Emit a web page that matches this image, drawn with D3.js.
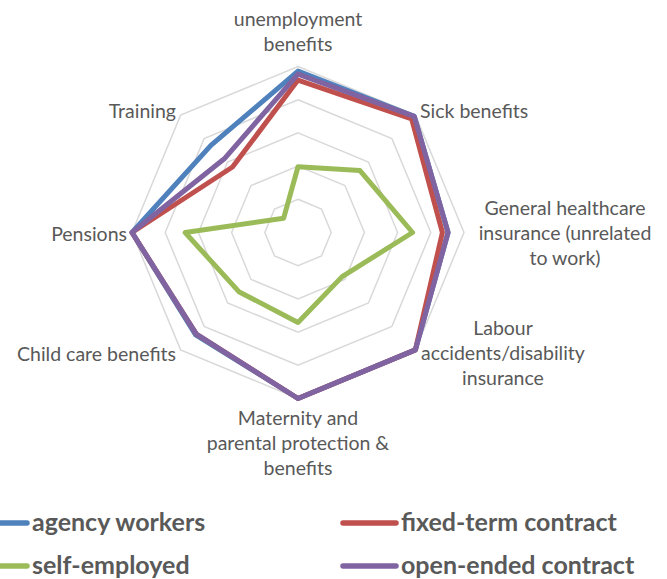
<!DOCTYPE html>
<meta charset="utf-8">
<style>
body { margin: 0; background: #fff; }
text { font-family: Lato, 'Open Sans', sans-serif; fill: #595959; }
.grid { fill: none; stroke: #d9d9d9; stroke-width: 1.5; }
.series { fill: none; stroke-width: 5; stroke-linejoin: round; }
.axislabel { font-size: 19.5px; }
.legend text { font-size: 25px; font-weight: bold; }
</style>
<body>
<div id="chart"></div>
<script src="https://d3js.org/d3.v7.min.js"></script>
<script>
// axes, clockwise from the top
var categories = [
  ["unemployment", "benefits"],
  ["Sick benefits"],
  ["General healthcare", "insurance (unrelated", "to work)"],
  ["Labour", "accidents/disability", "insurance"],
  ["Maternity and", "parental protection &", "benefits"],
  ["Child care benefits"],
  ["Pensions"],
  ["Training"]
];
var seriesNames = ["agency workers", "fixed-term contract", "self-employed", "open-ended contract"];
var seriesColors = ["#4f81bd", "#c0504d", "#9bbb59", "#8064a2"];

var agencyWorkers = [4.86, 4.95, 4.52, 5, 5, 4.36, 5, 3.71];
var fixedTerm     = [4.59, 4.84, 4.35, 5, 5, 4.33, 5, 2.79];
var selfEmployed  = [1.98, 2.64, 3.45, 1.88, 2.71, 2.52, 3.4, 0.61];
var openEnded     = [4.77, 4.95, 4.52, 5, 5, 4.33, 5, 3.14];
var seriesValues = [agencyWorkers, fixedTerm, selfEmployed, openEnded];

var ringTicks = [1, 2, 3, 4, 5];

var width = 667, height = 579,
    cx = 298, cy = 232.5, radius = 166;

var svg = d3.select("#chart").append("svg")
    .attr("width", width)
    .attr("height", height);

var r = d3.scaleLinear().domain([0, 5]).range([0, radius]);
var angle = d3.scaleLinear().domain([0, categories.length]).range([0, 2 * Math.PI]);

var g = svg.append("g").attr("transform", `translate(${cx},${cy})`);

var radial = d3.lineRadial()
    .angle((d, i) => angle(i))
    .radius(d => r(d))
    .curve(d3.curveLinearClosed);

// octagon grid
g.selectAll(".grid")
  .data(ringTicks)
  .enter().append("path")
  .attr("class", "grid")
  .attr("d", t => radial(categories.map(() => t)));

// series
g.selectAll(".series")
  .data(seriesValues)
  .enter().append("path")
  .attr("class", "series")
  .attr("stroke", (d, i) => seriesColors[i])
  .attr("d", d => radial(d));

// axis labels
var labelPos = [
  {x: 0, y: -207, anchor: "middle"},
  {x: 122, y: -115, anchor: "start"},
  {x: 267, y: -18, anchor: "middle"},
  {x: 205, y: 102, anchor: "middle"},
  {x: 0, y: 192, anchor: "middle"},
  {x: -122, y: 128, anchor: "end"},
  {x: -171, y: 8, anchor: "end"},
  {x: -122, y: -115, anchor: "end"}
];
var lineH = 25;
categories.forEach(function(lines, i) {
  var p = labelPos[i];
  var t = g.append("text")
      .attr("class", "axislabel")
      .attr("text-anchor", p.anchor);
  lines.forEach(function(s, j) {
    t.append("tspan").attr("x", p.x).attr("y", p.y + j * lineH).text(s);
  });
});

// legend
var legendPos = [
  {x: -28, y: 523},
  {x: 341, y: 523},
  {x: -28, y: 566},
  {x: 341, y: 566}
];
var legend = svg.append("g").attr("class", "legend")
  .selectAll("g")
  .data(seriesNames)
  .enter().append("g")
  .attr("transform", (d, i) => `translate(${legendPos[i].x},${legendPos[i].y})`);

legend.append("line")
  .attr("x1", 2)
  .attr("x2", 55)
  .attr("stroke", (d, i) => seriesColors[i])
  .attr("stroke-width", 5.5)
  .attr("stroke-linecap", "round");

legend.append("text")
  .attr("x", 60)
  .attr("y", 8)
  .text(d => d);
</script>
</body>
